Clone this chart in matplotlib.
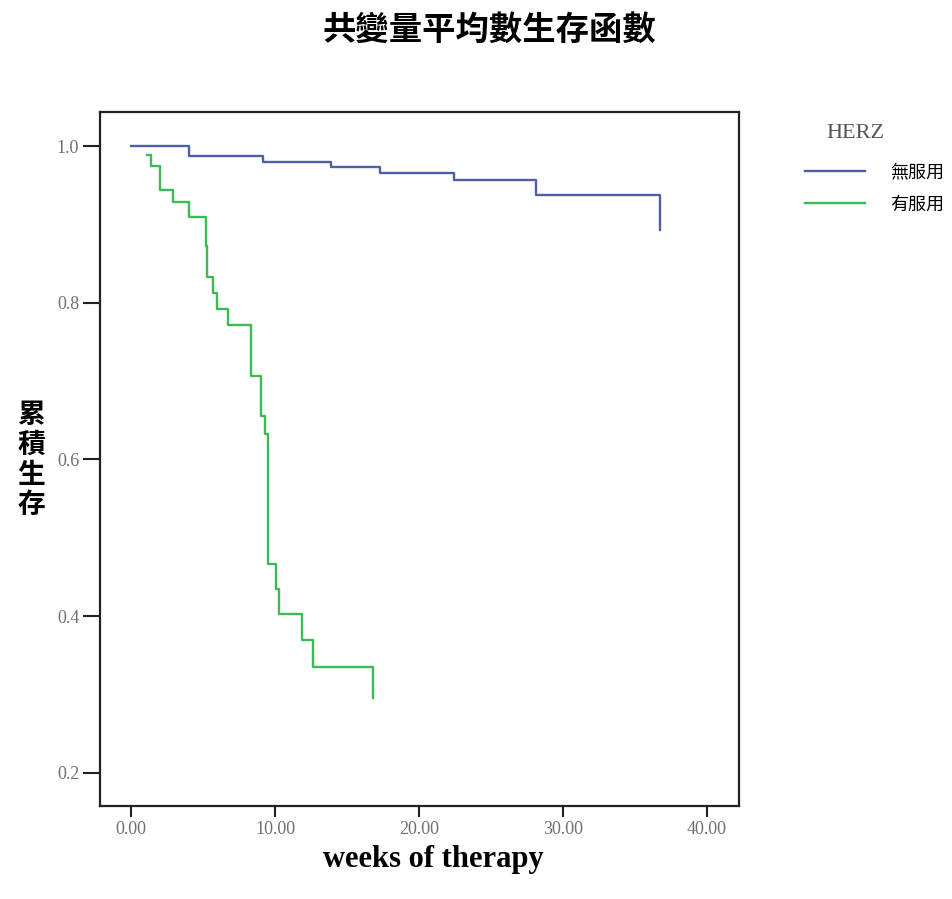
#Kaplan-Meier style survival curves at covariate means

import matplotlib
matplotlib.use('Agg')
import matplotlib.pyplot as plt

# data
weeks_no = [0.0, 4.05, 9.2, 13.9, 17.3, 22.4, 28.1, 36.7]
surv_no = [1.0, 0.987, 0.980, 0.973, 0.965, 0.956, 0.937, 0.893]

weeks_yes = [1.1, 1.42, 2.03, 2.94, 4.05, 5.2, 5.3, 5.72, 6.0, 6.76,
             8.33, 9.03, 9.3, 9.53, 10.05, 10.28, 11.9, 12.66, 16.83]
surv_yes = [0.9885, 0.974, 0.944, 0.928, 0.909, 0.872, 0.833, 0.812, 0.792, 0.772,
            0.707, 0.656, 0.633, 0.467, 0.435, 0.403, 0.369, 0.335, 0.295]

group_labels = ['無服用', '有服用']
xticks = [0, 10, 20, 30, 40]
yticks = [0.2, 0.4, 0.6, 0.8, 1.0]

cjk = ['Noto Sans CJK TC', 'DejaVu Sans']
serif = ['Liberation Serif', 'DejaVu Serif']

W, H = 953, 899
fig = plt.figure(figsize=(W / 100, H / 100), dpi=100)
ax = fig.add_axes([100 / W, 1 - 806 / H, (739 - 100) / W, (806 - 112) / H])

l1, = ax.step(weeks_no, surv_no, where='post', color='#4f5fa6', lw=1.7)
l2, = ax.step(weeks_yes, surv_yes, where='post', color='#3dba55', lw=1.7)

ax.set_xlim(-2.15, 42.22)
ax.set_ylim(0.1576, 1.0434)
ax.set_xticks(xticks)
ax.set_xticklabels(['%.2f' % t for t in xticks])
ax.set_yticks(yticks)
ax.set_yticklabels(['%.1f' % t for t in yticks])
for s in ax.spines.values():
    s.set_linewidth(1.6)
    s.set_color('#222222')
ax.tick_params(axis='both', direction='out', width=1.5, color='#222222',
               labelcolor='#707070', labelsize=13)
ax.tick_params(axis='x', length=8, pad=3)
ax.tick_params(axis='y', length=12, pad=3)
for lab in ax.get_xticklabels() + ax.get_yticklabels():
    lab.set_family(serif)

fig.text(489 / W, 1 - 30 / H, '共變量平均數生存函數', ha='center', va='center',
         fontsize=24, fontweight='bold', family=cjk)
fig.text(433 / W, 1 - 859 / H, 'weeks of therapy', ha='center', va='center',
         fontsize=22, fontweight='bold', family=serif)
fig.text(31 / W, 1 - 460 / H, '\n'.join('累積生存'), ha='center', va='center',
         fontsize=20, fontweight='bold', family=cjk, linespacing=1.1)

# legend
fig.text(855 / W, 1 - 134 / H, 'HERZ', ha='center', va='center',
         fontsize=16, color='#555555', family=serif)
ax.legend([l1, l2], group_labels, loc='upper left',
          bbox_to_anchor=(805 / W, 1 - 163 / H), bbox_transform=fig.transFigure,
          frameon=False, borderpad=0, borderaxespad=0, handlelength=3.3,
          handletextpad=1.4, labelspacing=0.8,
          prop={'family': cjk, 'size': 13})

plt.savefig('out.png', dpi=100)
